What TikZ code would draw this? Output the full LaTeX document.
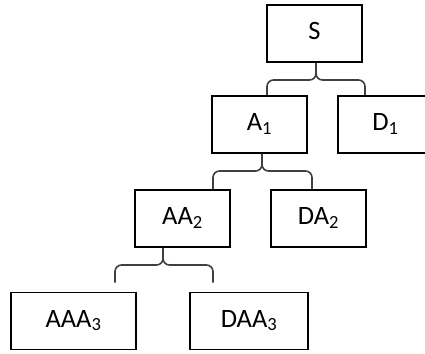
\documentclass[tikz,border=0pt]{standalone}
\usepackage{fontspec}
\setmainfont{Carlito}
\usetikzlibrary{calc}
\begin{document}
\begin{tikzpicture}[x=1pt,y=-1pt,
  treebox/.style={draw=black,line width=1.6pt,minimum height=57pt,inner sep=0pt,
    font=\fontsize{26.5}{30}\selectfont,text height=17pt,text depth=5pt},
  bracket/.style={draw=black!75,line width=1.6pt,rounded corners=6.5pt}]
\useasboundingbox (0,0) rectangle (425,353);
\clip (0,0) rectangle (425,353);
% tree nodes
\node[treebox,minimum width=95pt]  (S)   at (314.5,33.5)  {S};
\node[treebox,minimum width=95pt]  (A1)  at (259.5,124.5) {A\textsubscript{1}};
\node[treebox,minimum width=95pt]  (D1)  at (385.5,124.5) {D\textsubscript{1}};
\node[treebox,minimum width=95pt]  (AA2) at (182.5,218.5) {AA\textsubscript{2}};
\node[treebox,minimum width=95pt]  (DA2) at (318.5,218.5) {DA\textsubscript{2}};
\node[treebox,minimum width=125pt] (AAA3) at (73.5,321)  {AAA\textsubscript{3}};
\node[treebox,minimum width=118pt] (DAA3) at (249,321)   {DAA\textsubscript{3}};
% bracket ends
\coordinate (sL) at ([xshift=7.5pt]A1.north);
\coordinate (sR) at ([xshift=-20.5pt]D1.north);
\coordinate (aL) at ([xshift=30.5pt]AA2.north);
\coordinate (aR) at ([xshift=-6.5pt]DA2.north);
\coordinate (bL) at ([xshift=41.5pt,yshift=9pt]AAA3.north);
\coordinate (bR) at ([xshift=-36pt,yshift=9pt]DAA3.north);
\coordinate (sT) at ([xshift=1.5pt]S.south);
\coordinate (aT) at ([xshift=2.5pt]A1.south);
\coordinate (bT) at ([xshift=-19.5pt]AA2.south);
% curly brackets
\draw[bracket] (sL) -- (sL |- 0,80) -- (sT |- 0,80) -- (sT);
\draw[bracket] (sR) -- (sR |- 0,80) -- (sT |- 0,80) -- (sT);
\draw[bracket] (aL) -- (aL |- 0,171) -- (aT |- 0,171) -- (aT);
\draw[bracket] (aR) -- (aR |- 0,171) -- (aT |- 0,171) -- (aT);
\draw[bracket] (bL) -- (bL |- 0,265) -- (bT |- 0,265) -- (bT);
\draw[bracket] (bR) -- (bR |- 0,265) -- (bT |- 0,265) -- (bT);
\end{tikzpicture}
\end{document}
